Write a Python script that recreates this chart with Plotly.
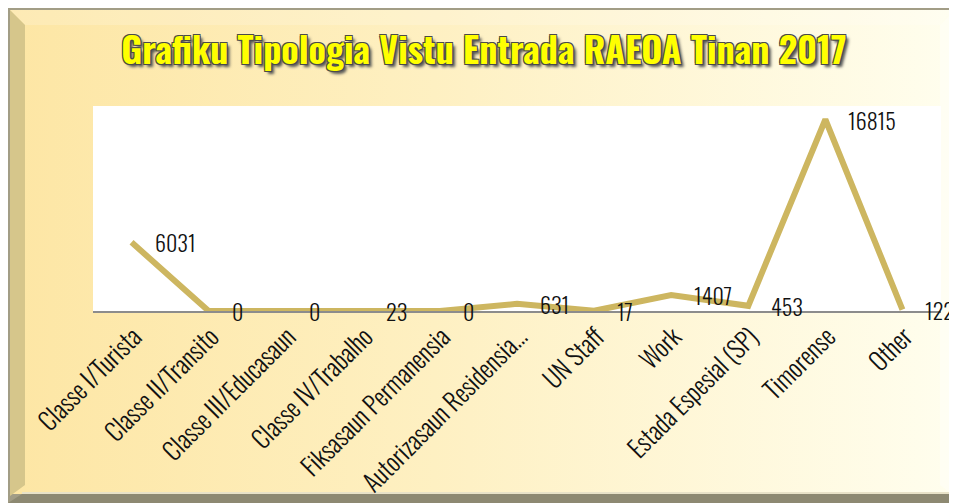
import base64
import plotly.graph_objects as go

categories = ["Classe I/Turista", "Classe II/Transito", "Classe III/Educasaun",
              "Classe IV/Trabalho", "Fiksasaun Permanensia", "Autorizasaun Residensia...",
              "UN Staff", "Work", "Estada Espesial (SP)", "Timorense", "Other"]
values = [6031, 0, 0, 23, 0, 631, 17, 1407, 453, 16815, 122]
title_text = "Grafiku Tipologia Vistu Entrada RAEOA Tinan 2017"

# the page adds an 8px body margin, so the figure is 949x495
W, H = 949, 495
L, R, T, B = 85, 16, 98, 192
PW, PH = W - L - R, H - T - B

FONT = "Oswald, Roboto Condensed, DejaVu Sans Condensed, sans-serif"

svg = f'''<svg xmlns="http://www.w3.org/2000/svg" width="{W}" height="{H}" viewBox="0 0 {W} {H}" preserveAspectRatio="none">
<defs><linearGradient id="g" x1="0" y1="0" x2="1" y2="0">
<stop offset="0" stop-color="#FDE6A4"/><stop offset="0.45" stop-color="#FEF0C2"/><stop offset="1" stop-color="#FFFEEE"/></linearGradient></defs>
<rect width="{W}" height="{H}" fill="#A29D86"/>
<rect x="946" y="0" width="3" height="486" fill="#FFFFF4"/>
<rect x="2" y="2" width="943" height="484" fill="url(#g)"/>
<polygon points="2,2 945,2 932,17 17,17" fill="#ffffff" fill-opacity="0.18"/>
<polygon points="2,2 17,17 17,477 2,488" fill="#D6C68B"/>
<polygon points="932,17 944,5 944,486 932,477" fill="#ffffff" fill-opacity="0.35"/>
<rect x="944" y="14" width="2" height="472" fill="#A29D86"/>
<polygon points="0,495 14,486 947,486 949,495" fill="#8D8972"/>
<rect x="14" y="484" width="933" height="2" fill="#E8E2C8"/>
</svg>'''
src = "data:image/svg+xml;base64," + base64.b64encode(svg.encode()).decode()

fig = go.Figure()
fig.add_trace(go.Scatter(
    x=categories, y=values, mode="lines",
    line=dict(color="#CDB660", width=6),
    hoverinfo="x+y", showlegend=False,
))

for c, v in zip(categories, values):
    fig.add_annotation(x=c, y=v, text=str(v), showarrow=False,
                       xanchor="left", yanchor="middle", xshift=21,
                       font=dict(family=FONT, size=22, weight=300, color="#111111"))

fig.add_layout_image(dict(
    source=src, xref="paper", yref="paper",
    x=-L / PW, y=1 + T / PH, sizex=W / PW, sizey=H / PH,
    xanchor="left", yanchor="top", sizing="stretch", layer="below"))

fig.add_shape(type="rect", xref="paper", yref="paper", x0=0, x1=1, y0=0, y1=1,
              fillcolor="#ffffff", line=dict(width=0), layer="below")

fig.update_layout(
    width=W, height=H,
    margin=dict(l=L, r=R, t=T, b=B, autoexpand=False),
    paper_bgcolor="#FEF0C2", plot_bgcolor="rgba(0,0,0,0)",
    title=dict(text=title_text, x=476 / W, xanchor="center", y=1 - 43 / H, yanchor="middle",
               font=dict(family=FONT, size=36, color="#FFFF00", weight="bold",
                         shadow="1px 1px 0 #4a4a4a, -1px -1px 0 #4a4a4a, 1px -1px 0 #4a4a4a, -1px 1px 0 #4a4a4a, 3px 3px 3px #555")),
    xaxis=dict(type="category", range=[-0.5, len(categories) - 0.5], showgrid=False,
               showline=True, linecolor="#8C8C8C", linewidth=1.5, zeroline=False,
               ticks="", tickangle=-45, ticklabelstandoff=0, ticklabelshift=3,
               tickfont=dict(family=FONT, size=25, weight=300, color="#111111")),
    yaxis=dict(range=[0, 18000], showgrid=False, zeroline=False, showline=False,
               showticklabels=False, ticks=""),
)

fig.write_html("out.html")
